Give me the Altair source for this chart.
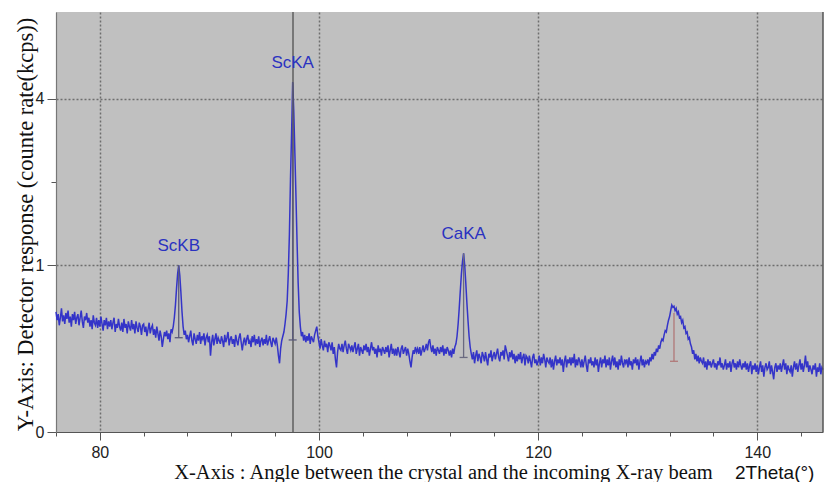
import altair as alt
import pandas as pd
import numpy as np

# ---- data ----
scan_start = 76.0   # 2Theta (deg) of first sample
scan_step = 0.1     # 2Theta step (deg)
counts = [
    0.52, 0.45, 0.50, 0.41, 0.47, 0.55, 0.44, 0.49, 0.42, 0.51,  # 76
    0.46, 0.53, 0.43, 0.48, 0.40, 0.50, 0.45, 0.52, 0.42, 0.47,  # 77
    0.50, 0.41, 0.47, 0.53, 0.44, 0.39, 0.48, 0.45, 0.51, 0.43,  # 78
    0.47, 0.40, 0.45, 0.38, 0.49, 0.43, 0.41, 0.47, 0.39, 0.45,  # 79
    0.40, 0.48, 0.42, 0.37, 0.45, 0.41, 0.47, 0.38, 0.44, 0.40,  # 80
    0.45, 0.38, 0.43, 0.47, 0.36, 0.42, 0.39, 0.46, 0.40, 0.37,  # 81
    0.43, 0.36, 0.46, 0.39, 0.42, 0.35, 0.44, 0.40, 0.37, 0.45,  # 82
    0.38, 0.42, 0.35, 0.44, 0.39, 0.36, 0.43, 0.40, 0.34, 0.41,  # 83
    0.42, 0.36, 0.40, 0.33, 0.38, 0.43, 0.35, 0.39, 0.41, 0.34,  # 84
    0.38, 0.32, 0.40, 0.35, 0.30, 0.37, 0.33, 0.26, 0.31, 0.36,  # 85
    0.33, 0.37, 0.31, 0.35, 0.29, 0.38, 0.36, 0.40, 0.47, 0.58,  # 86
    0.74, 0.90, 1.00, 0.88, 0.70, 0.52, 0.40, 0.34, 0.37, 0.31,  # 87
    0.34, 0.29, 0.33, 0.37, 0.30, 0.27, 0.35, 0.31, 0.28, 0.34,  # 88
    0.30, 0.36, 0.28, 0.33, 0.31, 0.35, 0.27, 0.32, 0.34, 0.29,  # 89
    0.33, 0.21, 0.29, 0.34, 0.27, 0.31, 0.35, 0.28, 0.32, 0.30,  # 90
    0.28, 0.33, 0.30, 0.26, 0.34, 0.29, 0.32, 0.36, 0.27, 0.31,  # 91
    0.33, 0.28, 0.31, 0.26, 0.34, 0.30, 0.27, 0.32, 0.35, 0.29,  # 92
    0.24, 0.29, 0.32, 0.27, 0.31, 0.34, 0.28, 0.30, 0.26, 0.33,  # 93
    0.29, 0.34, 0.27, 0.31, 0.28, 0.33, 0.26, 0.30, 0.32, 0.27,  # 94
    0.31, 0.28, 0.34, 0.27, 0.30, 0.33, 0.29, 0.26, 0.32, 0.30,  # 95
    0.28, 0.32, 0.27, 0.21, 0.17, 0.25, 0.30, 0.33, 0.36, 0.42,  # 96
    0.50, 0.62, 0.90, 1.40, 2.30, 3.20, 4.40, 3.70, 2.80, 2.00,  # 97
    1.30, 0.80, 0.52, 0.40, 0.33, 0.36, 0.30, 0.34, 0.29, 0.33,  # 98
    0.30, 0.35, 0.28, 0.33, 0.31, 0.29, 0.34, 0.37, 0.40, 0.33,  # 99
    0.29, 0.25, 0.31, 0.27, 0.24, 0.30, 0.26, 0.28, 0.23, 0.29,  # 100
    0.27, 0.24, 0.29, 0.22, 0.26, 0.19, 0.15, 0.23, 0.28, 0.25,  # 101
    0.24, 0.28, 0.23, 0.27, 0.30, 0.25, 0.22, 0.28, 0.26, 0.24,  # 102
    0.27, 0.23, 0.26, 0.29, 0.22, 0.25, 0.28, 0.21, 0.26, 0.24,  # 103
    0.22, 0.27, 0.24, 0.28, 0.23, 0.26, 0.21, 0.25, 0.29, 0.24,  # 104
    0.26, 0.22, 0.25, 0.20, 0.27, 0.23, 0.25, 0.21, 0.26, 0.24,  # 105
    0.22, 0.26, 0.23, 0.27, 0.20, 0.24, 0.28, 0.22, 0.25, 0.21,  # 106
    0.25, 0.21, 0.26, 0.23, 0.20, 0.25, 0.27, 0.22, 0.24, 0.26,  # 107
    0.21, 0.25, 0.22, 0.18, 0.15, 0.20, 0.24, 0.22, 0.26, 0.23,  # 108
    0.25, 0.22, 0.26, 0.21, 0.24, 0.27, 0.23, 0.25, 0.28, 0.24,  # 109
    0.29, 0.31, 0.26, 0.23, 0.27, 0.22, 0.25, 0.21, 0.26, 0.24,  # 110
    0.22, 0.26, 0.23, 0.27, 0.21, 0.25, 0.22, 0.26, 0.24, 0.21,  # 111
    0.24, 0.20, 0.25, 0.22, 0.26, 0.28, 0.33, 0.42, 0.55, 0.72,  # 112
    0.90, 1.05, 1.15, 1.00, 0.80, 0.60, 0.45, 0.33, 0.26, 0.22,  # 113
    0.19, 0.23, 0.17, 0.21, 0.24, 0.18, 0.22, 0.20, 0.17, 0.23,  # 114
    0.21, 0.18, 0.23, 0.19, 0.16, 0.22, 0.20, 0.24, 0.18, 0.21,  # 115
    0.23, 0.19, 0.22, 0.25, 0.20, 0.18, 0.23, 0.21, 0.24, 0.19,  # 116
    0.27, 0.24, 0.21, 0.18, 0.23, 0.20, 0.24, 0.19, 0.22, 0.17,  # 117
    0.21, 0.18, 0.22, 0.19, 0.23, 0.17, 0.20, 0.22, 0.16, 0.21,  # 118
    0.20, 0.17, 0.21, 0.18, 0.15, 0.20, 0.22, 0.17, 0.19, 0.16,  # 119
    0.18, 0.21, 0.16, 0.20, 0.17, 0.22, 0.19, 0.15, 0.20, 0.18,  # 120
    0.17, 0.20, 0.15, 0.19, 0.14, 0.18, 0.21, 0.16, 0.19, 0.17,  # 121
    0.20, 0.16, 0.19, 0.13, 0.18, 0.21, 0.15, 0.19, 0.17, 0.20,  # 122
    0.16, 0.20, 0.17, 0.22, 0.15, 0.19, 0.16, 0.20, 0.18, 0.15,  # 123
    0.19, 0.15, 0.18, 0.21, 0.16, 0.13, 0.19, 0.17, 0.20, 0.16,  # 124
    0.18, 0.15, 0.20, 0.16, 0.19, 0.13, 0.17, 0.20, 0.15, 0.19,  # 125
    0.17, 0.21, 0.15, 0.19, 0.16, 0.20, 0.14, 0.18, 0.21, 0.16,  # 126
    0.20, 0.15, 0.18, 0.14, 0.19, 0.16, 0.21, 0.17, 0.15, 0.19,  # 127
    0.17, 0.19, 0.15, 0.20, 0.16, 0.18, 0.14, 0.19, 0.17, 0.20,  # 128
    0.16, 0.19, 0.14, 0.18, 0.21, 0.16, 0.19, 0.15, 0.18, 0.17,  # 129
    0.19, 0.16, 0.20, 0.18, 0.22, 0.19, 0.23, 0.21, 0.25, 0.23,  # 130
    0.27, 0.25, 0.29, 0.31, 0.30, 0.34, 0.37, 0.36, 0.41, 0.45,  # 131
    0.48, 0.53, 0.58, 0.56, 0.57, 0.53, 0.55, 0.50, 0.52, 0.47,  # 132
    0.48, 0.43, 0.45, 0.39, 0.40, 0.35, 0.36, 0.31, 0.32, 0.28,  # 133
    0.26, 0.22, 0.24, 0.19, 0.22, 0.18, 0.21, 0.17, 0.20, 0.18,  # 134
    0.17, 0.20, 0.15, 0.18, 0.14, 0.19, 0.16, 0.18, 0.15, 0.17,  # 135
    0.19, 0.15, 0.17, 0.14, 0.18, 0.16, 0.20, 0.15, 0.17, 0.14,  # 136
    0.16, 0.19, 0.14, 0.17, 0.15, 0.18, 0.13, 0.17, 0.19, 0.15,  # 137
    0.17, 0.14, 0.18, 0.15, 0.19, 0.16, 0.14, 0.17, 0.15, 0.18,  # 138
    0.14, 0.17, 0.13, 0.16, 0.18, 0.12, 0.16, 0.14, 0.17, 0.13,  # 139
    0.16, 0.12, 0.15, 0.18, 0.13, 0.16, 0.11, 0.15, 0.17, 0.14,  # 140
    0.15, 0.18, 0.12, 0.16, 0.13, 0.10, 0.15, 0.17, 0.13, 0.16,  # 141
    0.14, 0.17, 0.13, 0.16, 0.19, 0.14, 0.17, 0.12, 0.16, 0.14,  # 142
    0.13, 0.16, 0.11, 0.15, 0.18, 0.14, 0.17, 0.13, 0.16, 0.19,  # 143
    0.14, 0.17, 0.13, 0.16, 0.21, 0.15, 0.18, 0.13, 0.16, 0.14,  # 144
    0.12, 0.16, 0.14, 0.17, 0.11, 0.15, 0.13, 0.17, 0.12, 0.15,  # 145
    0.14,                                                        # 146
]

peak_names = ["ScKB", "ScKA", "CaKA", ""]
peak_pos = [87.2, 97.6, 113.2, 132.4]
peak_top = [1.0, 4.4, 1.15, 0.51]
peak_base = [0.32, 0.305, 0.20, 0.18]
peak_color = ["#5a5a7a", "#5a5a7a", "#6a6a80", "#b07878"]

cursor_pos = [97.63]

x_ticks = [76, 78, 80, 82, 84, 86, 88, 90, 92, 94, 96, 98, 100, 102, 104, 106, 108,
           110, 112, 114, 116, 118, 120, 122, 124, 126, 128, 130, 132, 134, 136,
           138, 140, 142, 144, 146]
x_labels = [80, 100, 120, 140]
y_ticks = [0, 1, 2.25, 4]
y_labels = [0, 1, 4]

x_domain = [76, 146]
y_domain = [0, 6.35]

x_title = "X-Axis : Angle between the crystal and the incoming X-ray beam"
x_unit = "2Theta(°)"
y_title = "Y-Axis: Detector response  (counte rate(kcps))"

# ---- build ----
n = len(counts)
df = pd.DataFrame({"theta": np.round(scan_start + scan_step * np.arange(n), 2),
                   "kcps": counts})
peaks = pd.DataFrame({"name": peak_names, "pos": peak_pos, "top": peak_top,
                      "base": peak_base, "col": peak_color})

W, H = 767, 420
lab_font = "Liberation Sans"
ttl_font = "Liberation Serif"

xscale = alt.Scale(domain=x_domain, nice=False, zero=False)
yscale = alt.Scale(type="sqrt", domain=y_domain, nice=False)

lab_x_expr = "indexof(" + str(x_labels) + ", datum.value) >= 0 ? datum.label : ''"
lab_y_expr = "indexof(" + str(y_labels) + ", datum.value) >= 0 ? datum.label : ''"

x_axis = alt.Axis(
    values=x_ticks, labelExpr=lab_x_expr, format="d", labelOverlap=False,
    grid=True,
    gridOpacity={"condition": {"test": "datum.value % 10 === 0", "value": 1}, "value": 0},
    gridColor="#6e6e6e", gridDash=[2, 2], gridWidth=1.5,
    tickSize={"condition": {"test": "datum.value % 10 === 0", "value": 8}, "value": 4},
    tickColor="#555555", domainColor="#555555", domainWidth=1.2,
    labelFont=lab_font, labelFontSize=16, labelColor="#222222", labelPadding=4,
    title=x_title, titleFont=ttl_font, titleFontSize=20.5, titleFontWeight="normal",
    titleColor="#111111", titleX=387, titleY=46, titleAlign="center",
    titleBaseline="alphabetic",
)
y_axis = alt.Axis(
    values=y_ticks, labelExpr=lab_y_expr, format="d", labelOverlap=False,
    grid=True,
    gridOpacity={"condition": {"test": "datum.value === 1 || datum.value === 4", "value": 1}, "value": 0},
    gridColor="#6e6e6e", gridDash=[2, 2], gridWidth=1.5,
    tickSize={"condition": {"test": "datum.value === 2.25", "value": 5}, "value": 9},
    tickColor="#555555", domainColor="#777777", domainWidth=1.2,
    labelFont=lab_font, labelFontSize=16, labelColor="#222222", labelPadding=3,
    title=y_title, titleFont=ttl_font, titleFontSize=22.5, titleFontWeight="normal",
    titleColor="#111111", titleX=-31, titleY=H / 2 + 2, titleAngle=270,
    titleAlign="center", titleBaseline="middle",
)

line = alt.Chart(df).mark_line(color="#3434c8", strokeWidth=1.5).encode(
    x=alt.X("theta:Q", scale=xscale, axis=x_axis),
    y=alt.Y("kcps:Q", scale=yscale, axis=y_axis),
)

markers = alt.Chart(peaks).mark_rule(strokeWidth=1.3).encode(
    x="pos:Q", y="top:Q", y2="base:Q",
    color=alt.Color("col:N", scale=None),
)
base_ticks = alt.Chart(peaks).mark_rule(strokeWidth=1.3, xOffset=-4, x2Offset=4).encode(
    x="pos:Q", x2="pos:Q", y="base:Q",
    color=alt.Color("col:N", scale=None),
)
cursor = alt.Chart(pd.DataFrame({"pos": cursor_pos})).mark_rule(
    color="#505050", strokeWidth=1.3).encode(x="pos:Q")

labels = alt.Chart(peaks[peaks["name"] != ""]).mark_text(
    font=lab_font, fontSize=17, color="#2a32c0", dy=-19, baseline="middle",
).encode(x="pos:Q", y="top:Q", text="name:N")

right_edge = alt.Chart(pd.DataFrame({"e": [x_domain[1]]})).mark_rule(
    color="#555555", strokeWidth=1.5).encode(x="e:Q")

unit = alt.Chart(pd.DataFrame({"t": [x_unit]})).mark_text(
    font=lab_font, fontSize=19, color="#111111", align="left", baseline="alphabetic",
).encode(x=alt.value(679), y=alt.value(H + 47), text="t:N")

chart = alt.layer(line, cursor, markers, base_ticks, labels, right_edge, unit).properties(
    width=W, height=H,
    padding={"left": 56, "top": 12, "right": 11, "bottom": 50},
    autosize="none",
    background="white",
).configure_view(fill="#c0c0c0", stroke=None)

chart.save("out.html", embed_options={"renderer": "svg", "actions": False})
